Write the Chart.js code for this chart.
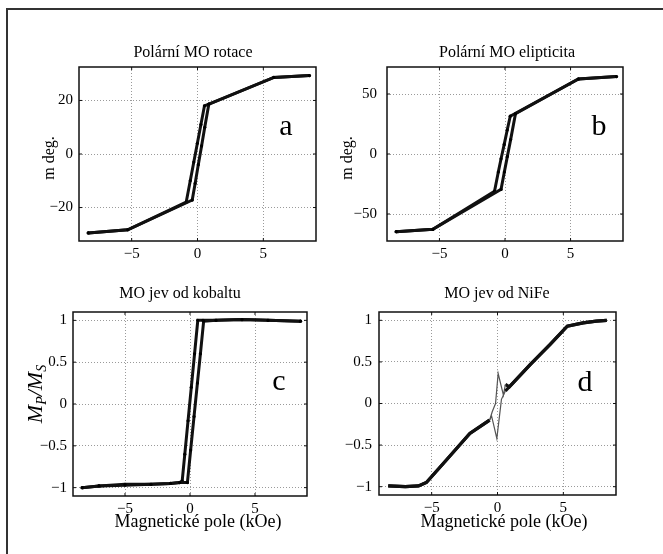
<!DOCTYPE html>
<html>
<head>
<meta charset="utf-8">
<script src="https://cdn.jsdelivr.net/npm/chart.js@4.4.0/dist/chart.umd.min.js"></script>
<style>
html, body { margin: 0; padding: 0; background: #fff; }
body { width: 663px; height: 554px; position: relative; overflow: hidden; }
#ram { position: absolute; left: 6px; top: 8px; width: 700px; height: 600px; border-left: 2px solid #333; border-top: 2px solid #333; }
canvas { position: absolute; }
</style>
</head>
<body>
<div id="ram"></div>
<canvas id="grafA" width="320" height="250" style="left:10px;top:20px;width:320px;height:250px"></canvas>
<canvas id="grafB" width="320" height="250" style="left:335px;top:20px;width:320px;height:250px"></canvas>
<canvas id="grafC" width="320" height="270" style="left:10px;top:280px;width:320px;height:270px"></canvas>
<canvas id="grafD" width="320" height="270" style="left:335px;top:280px;width:320px;height:270px"></canvas>
<script>
// osa x je u vsech grafu stejna (kOe)
const poleTicks = [-5, 0, 5];
const rotTicks = [-20, 0, 20];
const elTicks = [-50, 0, 50];
const normTicks = [-1, -0.5, 0, 0.5, 1];

// a) Polarni MO rotace (m deg.)
const rotUpX = [-8.3, -5.3, -0.4, -0.18, 0.06, 0.31, 0.55, 0.86, 5.8, 8.5];
const rotUpY = [-29.5, -28.3, -17.2, -11, -4, 3, 10, 18.6, 28.6, 29.3];
const rotDownX = [8.5, 5.8, 0.86, 0.53, 0.26, -0.01, -0.28, -0.55, -0.86, -5.3, -8.3];
const rotDownY = [29.3, 28.6, 18.6, 18.0, 11, 4, -3, -10, -18.0, -28.3, -29.5];

// b) Polarni MO elipticita (m deg.)
const elUpX = [-8.3, -5.5, -0.3, -0.05, 0.18, 0.43, 0.8, 5.6, 8.5];
const elUpY = [-64.7, -62.8, -29.5, -15, -2, 12, 33.5, 62.5, 64.5];
const elDownX = [8.5, 5.6, 0.4, 0.17, -0.06, -0.3, -0.51, -0.8, -5.5, -8.3];
const elDownY = [64.5, 62.5, 31.5, 20, 8, -4, -15, -31, -62.8, -64.7];

// c) MO jev od kobaltu (Mp/Ms)
const coUpX = [-8.3, -7, -5, -3, -1.5, -0.8, -0.2, 0.05, 0.31, 0.57, 0.8, 1.05, 2, 4, 6, 8.5];
const coUpY = [-1.0, -0.98, -0.96, -0.96, -0.95, -0.94, -0.94, -0.55, -0.15, 0.25, 0.6, 0.99, 1.0, 1.01, 1.0, 0.99];
const coDownX = [8.5, 6, 4, 2, 1.0, 0.6, 0.35, 0.1, -0.15, -0.4, -0.6, -0.8, -1.5, -3, -5, -7, -8.3];
const coDownY = [0.99, 1.0, 1.01, 1.0, 1.0, 1.0, 0.6, 0.2, -0.2, -0.6, -0.92, -0.94, -0.95, -0.96, -0.97, -0.98, -1.0];

// d) MO jev od NiFe (Mp/Ms)
const feUpX = [-8.3, -7, -6, -5.4, -4, -2.1, -0.6, -0.45, -0.05, 0.3, 0.6, 2.5, 4, 5.3, 6.5, 7.5, 8.3];
const feUpY = [-0.99, -1.0, -0.99, -0.95, -0.7, -0.36, -0.2, -0.15, -0.42, 0.05, 0.15, 0.47, 0.71, 0.93, 0.97, 0.99, 1.0];
const feDownX = [8.3, 7.5, 6.5, 5.3, 4, 2.5, 0.9, 0.6, 0.45, 0.05, -0.15, -0.4, -0.6, -2.1, -4, -5.4, -6, -7, -8.3];
const feDownY = [1.0, 0.99, 0.97, 0.93, 0.71, 0.47, 0.2, 0.23, 0.1, 0.36, 0.0, -0.1, -0.2, -0.36, -0.7, -0.95, -0.99, -1.0, -0.99];

const SERIF = '"Liberation Serif", "Times New Roman", serif';

function body(xs, ys) {
    return xs.map((x, i) => ({ x, y: ys[i] }));
}

function minus(v) {
    return v < 0 ? '\u2212' + Math.abs(v) : String(v);
}

// text s dolnimi indexy, otoceny o -90 stupnu
function drawRich(ctx, parts, cx, cy, size) {
    const subSize = Math.round(size * 0.62);
    let total = 0;
    parts.forEach(p => {
        ctx.font = 'italic ' + (p.sub ? subSize : size) + 'px ' + SERIF;
        p.w = ctx.measureText(p.t).width;
        total += p.w;
    });
    ctx.save();
    ctx.translate(cx, cy);
    ctx.rotate(-Math.PI / 2);
    ctx.textBaseline = 'alphabetic';
    ctx.textAlign = 'left';
    let x = -total / 2;
    parts.forEach(p => {
        ctx.font = 'italic ' + (p.sub ? subSize : size) + 'px ' + SERIF;
        ctx.fillText(p.t, x, p.sub ? 4 : 0);
        x += p.w;
    });
    ctx.restore();
}

function makePanel(cfg) {
    const ox = cfg.left, oy = cfg.top;
    const popisky = {
        id: 'popisky',
        afterDraw(chart) {
            const ctx = chart.ctx;
            const a = chart.chartArea;
            ctx.save();
            // ramecek grafu + kratke znacky dovnitr
            ctx.strokeStyle = '#111';
            ctx.lineWidth = 1.5;
            ctx.strokeRect(a.left, a.top, a.right - a.left, a.bottom - a.top);
            ctx.lineWidth = 1;
            const sx = chart.scales.x, sy = chart.scales.y;
            sx.ticks.forEach(t => {
                const px = sx.getPixelForValue(t.value);
                ctx.beginPath();
                ctx.moveTo(px, a.bottom); ctx.lineTo(px, a.bottom - 3);
                ctx.moveTo(px, a.top); ctx.lineTo(px, a.top + 3);
                ctx.stroke();
            });
            sy.ticks.forEach(t => {
                const py = sy.getPixelForValue(t.value);
                ctx.beginPath();
                ctx.moveTo(a.left, py); ctx.lineTo(a.left + 3, py);
                ctx.moveTo(a.right, py); ctx.lineTo(a.right - 3, py);
                ctx.stroke();
            });
            ctx.fillStyle = '#000';
            // nadpis
            ctx.font = '16px ' + SERIF;
            ctx.textAlign = 'center';
            ctx.textBaseline = 'middle';
            ctx.fillText(cfg.title, cfg.titleX - ox, cfg.titleY - oy);
            // pismeno panelu
            ctx.font = '30px ' + SERIF;
            ctx.textBaseline = 'alphabetic';
            ctx.fillText(cfg.letter, cfg.letterX - ox, cfg.letterY - oy);
            // popis osy x
            if (cfg.xLabel) {
                ctx.font = '18px ' + SERIF;
                ctx.textBaseline = 'middle';
                ctx.fillText(cfg.xLabel, cfg.xLabelX - ox, cfg.xLabelY - oy);
            }
            // popis osy y
            if (cfg.yLabel) {
                ctx.save();
                ctx.translate(cfg.yLabelX - ox, cfg.yLabelY - oy);
                ctx.rotate(-Math.PI / 2);
                ctx.font = '16px ' + SERIF;
                ctx.textBaseline = 'middle';
                ctx.fillText(cfg.yLabel, 0, 0);
                ctx.restore();
            }
            if (cfg.yRich) {
                drawRich(ctx, cfg.yRich, cfg.yLabelX - ox, cfg.yLabelY - oy, 22);
            }
            ctx.restore();
        }
    };

    const thin = cfg.thinLoop;
    const datasets = cfg.series.map(s => ({
        data: s,
        showLine: true,
        borderColor: '#111',
        backgroundColor: '#111',
        borderWidth: cfg.lineWidth,
        pointRadius: cfg.pointRadius,
        pointBorderWidth: 0,
        pointBackgroundColor: '#000',
        tension: 0,
        segment: thin ? {
            borderWidth: c => (Math.abs(c.p0.parsed.x) < 0.7 && Math.abs(c.p1.parsed.x) < 0.7) ? 1.2 : cfg.lineWidth,
            borderColor: c => (Math.abs(c.p0.parsed.x) < 0.7 && Math.abs(c.p1.parsed.x) < 0.7) ? '#555' : '#111'
        } : undefined
    }));

    const tickFont = { family: SERIF, size: 15 };

    new Chart(document.getElementById(cfg.id), {
        type: 'scatter',
        data: { datasets },
        options: {
            responsive: false,
            animation: false,
            layout: { padding: { top: cfg.padTop, right: cfg.padRight, bottom: 0, left: 0 } },
            plugins: { legend: { display: false }, tooltip: { enabled: false } },
            scales: {
                x: {
                    type: 'linear', min: -9, max: 9,
                    afterBuildTicks: s => { s.ticks = poleTicks.map(v => ({ value: v })); },
                    afterFit: s => { s.height = cfg.xH; },
                    ticks: { font: tickFont, color: '#000', padding: cfg.xPad, maxRotation: 0, callback: v => minus(v) },
                    grid: { color: '#9a9a9a', lineWidth: 1, drawTicks: false },
                    border: { display: false, dash: [1, 2] }
                },
                y: {
                    type: 'linear', min: cfg.yMin, max: cfg.yMax,
                    afterBuildTicks: s => { s.ticks = cfg.yTicks.map(v => ({ value: v })); },
                    afterFit: s => { s.width = cfg.yW; },
                    ticks: { font: tickFont, color: '#000', padding: cfg.yPad, callback: v => minus(v) },
                    grid: { color: '#9a9a9a', lineWidth: 1, drawTicks: false },
                    border: { display: false, dash: [1, 2] }
                }
            }
        },
        plugins: [popisky]
    });
}

makePanel({
    id: 'grafA', left: 10, top: 20, yW: 69, xH: 29, padTop: 47, padRight: 14,
    yMin: -32.5, yMax: 32.5, yTicks: rotTicks, xPad: 4, yPad: 6,
    series: [body(rotUpX, rotUpY), body(rotDownX, rotDownY)],
    lineWidth: 3, pointRadius: 1.6,
    title: 'Polární MO rotace', titleX: 193, titleY: 53,
    letter: 'a', letterX: 286, letterY: 135,
    yLabel: 'm deg.', yLabelX: 50, yLabelY: 158
});

makePanel({
    id: 'grafB', left: 335, top: 20, yW: 52, xH: 29, padTop: 47, padRight: 32,
    yMin: -72.5, yMax: 72.5, yTicks: elTicks, xPad: 4, yPad: 10,
    series: [body(elUpX, elUpY), body(elDownX, elDownY)],
    lineWidth: 3, pointRadius: 1.6,
    title: 'Polární MO elipticita', titleX: 507, titleY: 53,
    letter: 'b', letterX: 599, letterY: 135,
    yLabel: 'm deg.', yLabelX: 348, yLabelY: 158
});

makePanel({
    id: 'grafC', left: 10, top: 280, yW: 63, xH: 54, padTop: 32, padRight: 23,
    yMin: -1.1, yMax: 1.1, yTicks: normTicks, xPad: 4, yPad: 6,
    series: [body(coUpX, coUpY), body(coDownX, coDownY)],
    lineWidth: 3, pointRadius: 1.6,
    title: 'MO jev od kobaltu', titleX: 180, titleY: 294,
    letter: 'c', letterX: 279, letterY: 390,
    xLabel: 'Magnetické pole (kOe)', xLabelX: 198, xLabelY: 522,
    yRich: [{ t: 'M' }, { t: 'P', sub: true }, { t: '/M' }, { t: 'S', sub: true }],
    yLabelX: 42, yLabelY: 394
});

makePanel({
    id: 'grafD', left: 335, top: 280, yW: 44, xH: 55, padTop: 32, padRight: 39,
    yMin: -1.1, yMax: 1.1, yTicks: normTicks, xPad: 4, yPad: 7,
    series: [body(feUpX, feUpY), body(feDownX, feDownY)],
    lineWidth: 3.2, pointRadius: 0, thinLoop: true,
    title: 'MO jev od NiFe', titleX: 497, titleY: 294,
    letter: 'd', letterX: 585, letterY: 391,
    xLabel: 'Magnetické pole (kOe)', xLabelX: 504, xLabelY: 522
});
</script>
</body>
</html>
